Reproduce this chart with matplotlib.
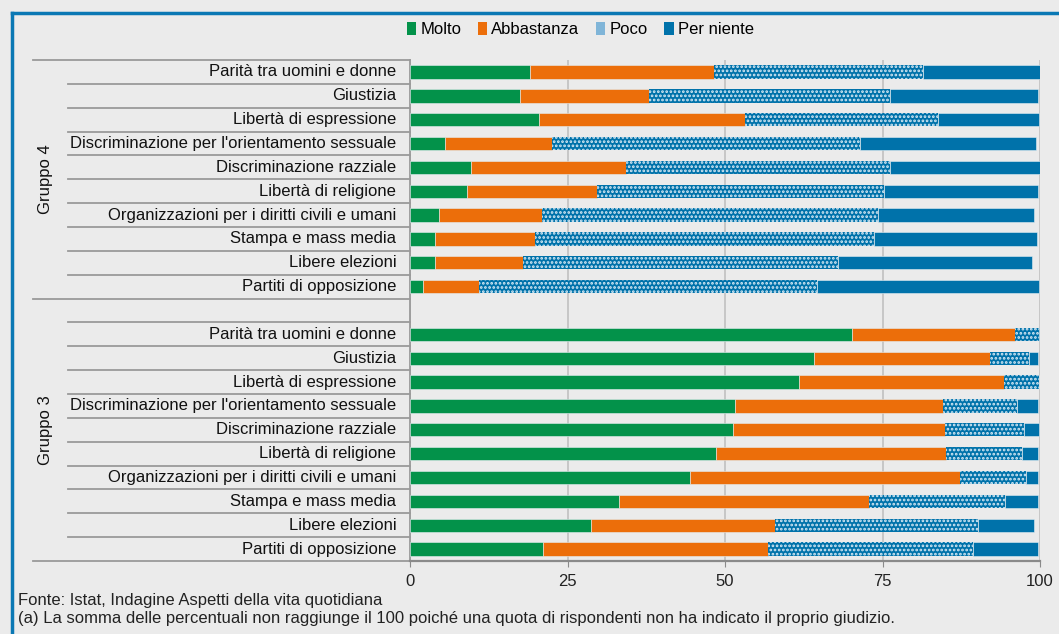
import matplotlib
matplotlib.use('Agg')
import matplotlib.pyplot as plt
import numpy as np
from matplotlib.lines import Line2D
from matplotlib.patches import Patch

plt.rcParams['font.family'] = ['Liberation Sans', 'DejaVu Sans']
plt.rcParams['hatch.linewidth'] = 1.3

# categories (top to bottom inside each group)
categories = ['Parità tra uomini e donne', 'Giustizia', 'Libertà di espressione',
              "Discriminazione per l'orientamento sessuale", 'Discriminazione razziale',
              'Libertà di religione', 'Organizzazioni per i diritti civili e umani',
              'Stampa e mass media', 'Libere elezioni', 'Partiti di opposizione']
groups = ['Gruppo 4', 'Gruppo 3']
series = ['Molto', 'Abbastanza', 'Poco', 'Per niente']

# Gruppo 4 (percentuali)
g4_molto = [19.0, 17.4, 20.5, 5.6, 9.6, 9.0, 4.6, 4.0, 3.9, 2.1]
g4_abbastanza = [29.2, 20.6, 32.6, 17.0, 24.6, 20.7, 16.4, 15.9, 14.0, 8.9]
g4_poco = [33.3, 38.2, 30.7, 48.8, 42.0, 45.5, 53.2, 53.7, 50.1, 53.6]
g4_per_niente = [18.5, 23.5, 16.1, 28.0, 23.8, 24.4, 24.9, 25.9, 30.8, 35.3]

# Gruppo 3 (percentuali)
g3_molto = [70.2, 64.1, 61.8, 51.6, 51.3, 48.5, 44.5, 33.1, 28.8, 21.1]
g3_abbastanza = [25.9, 27.9, 32.4, 33.0, 33.6, 36.6, 42.8, 39.8, 29.2, 35.7]
g3_poco = [3.8, 6.3, 5.6, 11.7, 12.6, 12.0, 10.4, 21.6, 32.1, 32.6]
g3_per_niente = [0.1, 1.4, 0.1, 3.4, 2.3, 2.5, 1.9, 5.2, 9.0, 10.2]

colors = ['#03924A', '#EC6E0A', '#0072AA', '#0072AA']
legend_colors = ['#03924A', '#EC6E0A', '#80B5D8', '#0072AA']
bg = '#EBEBEB'

g4 = np.array([g4_molto, g4_abbastanza, g4_poco, g4_per_niente])
g3 = np.array([g3_molto, g3_abbastanza, g3_poco, g3_per_niente])

# rows 0-9 = Gruppo 4, row 10 empty, rows 11-20 = Gruppo 3
ypos = np.concatenate([np.arange(10), np.arange(11, 21)])
data = np.concatenate([g4, g3], axis=1)

fig = plt.figure(figsize=(10.59, 6.34), dpi=100, facecolor=bg)
ax = fig.add_axes([0.3872, 0.1151, 0.5949, 0.7902], facecolor=bg)

left = np.zeros(len(ypos))
for i, name in enumerate(series):
    if name == 'Poco':
        ax.barh(ypos, data[i], left=left, height=0.56, color=colors[i],
                edgecolor='#D8EAF5', hatch='....', linewidth=0.0, zorder=3)
    else:
        ax.barh(ypos, data[i], left=left, height=0.56, color=colors[i],
                edgecolor='#E4EEF2', linewidth=0.4, zorder=3)
    left = left + data[i]

ax.set_xlim(0, 100)
ax.set_ylim(20.5, -0.5)
ax.set_xticks([0, 25, 50, 75, 100])
ax.tick_params(axis='x', length=4, color='#8A8A8A', labelsize=12, pad=5, labelcolor='#222222')
ax.set_yticks([])
ax.grid(axis='x', color='#BDBDBD', linewidth=1.1, zorder=0)
ax.set_axisbelow(True)
for s in ['top', 'right']:
    ax.spines[s].set_visible(False)
ax.spines['left'].set_color('#9A9A9A')
ax.spines['left'].set_linewidth(1.3)
ax.spines['bottom'].set_color('#8A8A8A')
ax.spines['bottom'].set_linewidth(1.6)

# category labels and separators
trans = ax.get_yaxis_transform()
for j, cat in enumerate(categories):
    for off in (0, 11):
        ax.text(-0.022, j + off, cat, transform=trans, ha='right', va='center',
                fontsize=12, color='#111111')
inner = [y + 0.5 for y in range(9)] + [y + 0.5 for y in range(10, 20)]
for y in inner:
    ax.plot([-0.543, 0], [y, y], transform=trans, color='#9A9A9A', lw=1.3, clip_on=False)
for y in [-0.5, 9.5, 20.5]:
    ax.plot([-0.598, 0], [y, y], transform=trans, color='#9A9A9A', lw=1.3, clip_on=False)

ax.text(-0.578, 4.5, groups[0], transform=trans, rotation=90, ha='center', va='center',
        fontsize=12, color='#111111')
ax.text(-0.578, 15, groups[1], transform=trans, rotation=90, ha='center', va='center',
        fontsize=12, color='#111111')

# legend
handles = [Patch(facecolor=c, edgecolor='none') for c in legend_colors]
fig.legend(handles, series, loc='center', bbox_to_anchor=(0.548, 0.953), ncol=4,
           frameon=False, fontsize=12, handlelength=0.55, handleheight=0.75,
           handletextpad=0.25, columnspacing=1.0)

# blue frame
fig.add_artist(Line2D([0.0113, 1], [0.9795, 0.9795], color='#0A78B4', lw=2.5))
fig.add_artist(Line2D([0.0113, 0.0113], [0, 0.9795], color='#0A78B4', lw=2.5))

# notes
note_font = ['Liberation Sans Narrow', 'Liberation Sans', 'DejaVu Sans']
fig.text(0.017, 0.0536, 'Fonte: Istat, Indagine Aspetti della vita quotidiana',
         family=note_font, fontsize=12, va='center', color='#222222')
fig.text(0.017, 0.0237, '(a) La somma delle percentuali non raggiunge il 100 poiché una quota '
         'di rispondenti non ha indicato il proprio giudizio.',
         family=note_font, fontsize=12, va='center', color='#222222')

fig.savefig('out.png', dpi=100, facecolor=bg)
